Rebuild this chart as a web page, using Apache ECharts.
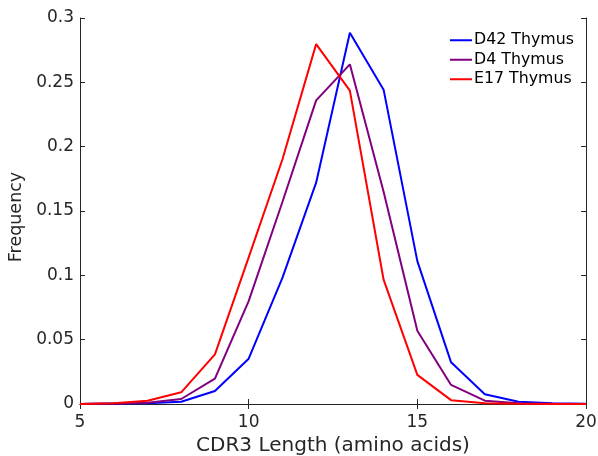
<!DOCTYPE html>
<html>
<head>
<meta charset="utf-8">
<script src="https://cdn.jsdelivr.net/npm/echarts@6/dist/echarts.min.js"></script>
<style>
html,body{margin:0;padding:0;background:#fff;}
#chart{width:598px;height:456px;}
</style>
</head>
<body>
<div id="chart"></div>
<script>
const lengths = [5, 6, 7, 8, 9, 10, 11, 12, 13, 14, 15, 16, 17, 18, 19, 20];
const d42Thymus = [0, 0.0003, 0.0005, 0.0018, 0.0101, 0.0352, 0.098, 0.172, 0.2885, 0.2443, 0.111, 0.0324, 0.0075, 0.0018, 0.0005, 0.0001];
const d4Thymus  = [0, 0.0003, 0.001, 0.0039, 0.0197, 0.080, 0.157, 0.236, 0.264, 0.165, 0.057, 0.0148, 0.0026, 0.0005, 0.0001, 0];
const e17Thymus = [0, 0.0005, 0.0026, 0.0091, 0.0386, 0.114, 0.190, 0.2797, 0.2435, 0.0966, 0.0226, 0.003, 0.0005, 0.0001, 0, 0];
const seriesNames = ['D42 Thymus', 'D4 Thymus', 'E17 Thymus'];
const seriesColors = ['#0000ff', '#800080', '#ff0000'];
const xTicks = [5, 10, 15, 20];
const yTicks = [0, 0.05, 0.1, 0.15, 0.2, 0.25, 0.3];

const FONT = 'DejaVu Sans';
const AX = '#262626';
const allData = [d42Thymus, d4Thymus, e17Thymus];

const chart = echarts.init(document.getElementById('chart'), null, {renderer: 'canvas'});
const baseX = {
  type: 'value', min: xTicks[0], max: xTicks[xTicks.length - 1], interval: 5,
  axisLine: {show: true, lineStyle: {color: AX, width: 1}},
  axisTick: {show: true, inside: true, length: 5, lineStyle: {color: AX}},
  splitLine: {show: false}
};
const baseY = {
  type: 'value', min: yTicks[0], max: yTicks[yTicks.length - 1], interval: 0.05,
  axisLine: {show: true, lineStyle: {color: AX, width: 1}},
  axisTick: {show: true, inside: true, length: 5, lineStyle: {color: AX}},
  splitLine: {show: false}
};
chart.setOption({
  animation: false,
  backgroundColor: '#ffffff',
  grid: {left: 80, right: 12, top: 18, bottom: 52, containLabel: false, outerBoundsMode: 'none'},
  legend: {
    orient: 'vertical', left: 450, top: 31, padding: 0,
    itemWidth: 22, itemHeight: 2, itemGap: 1,
    icon: 'rect',
    data: seriesNames,
    textStyle: {fontFamily: FONT, fontSize: 15.8, color: '#000', lineHeight: 18.5, padding: [0, 0, 0, -3]}
  },
  xAxis: [
    Object.assign({}, baseX, {
      position: 'bottom',
      axisLabel: {show: true, fontFamily: FONT, fontSize: 17, color: AX, margin: 10},
      name: 'CDR3 Length (amino acids)', nameLocation: 'middle', nameGap: 29,
      nameTextStyle: {fontFamily: FONT, fontSize: 20, color: AX}
    }),
    Object.assign({}, baseX, {position: 'top', axisLabel: {show: false}})
  ],
  yAxis: [
    Object.assign({}, baseY, {
      position: 'left',
      axisLabel: {show: true, fontFamily: FONT, fontSize: 17, color: AX, margin: 6,
        formatter: v => String(+v.toFixed(2))},
      name: 'Frequency', nameLocation: 'middle', nameGap: 47, nameRotate: 90,
      nameTextStyle: {fontFamily: FONT, fontSize: 17.5, color: AX, padding: [0, 12, 0, 0]}
    }),
    Object.assign({}, baseY, {position: 'right', axisLabel: {show: false}})
  ],
  series: seriesNames.map((name, i) => ({
    name: name, type: 'line', xAxisIndex: 0, yAxisIndex: 0,
    data: lengths.map((x, j) => [x, allData[i][j]]),
    showSymbol: false, symbol: 'none',
    lineStyle: {color: seriesColors[i], width: 2},
    itemStyle: {color: seriesColors[i]},
    clip: true
  }))
});
</script>
</body>
</html>
